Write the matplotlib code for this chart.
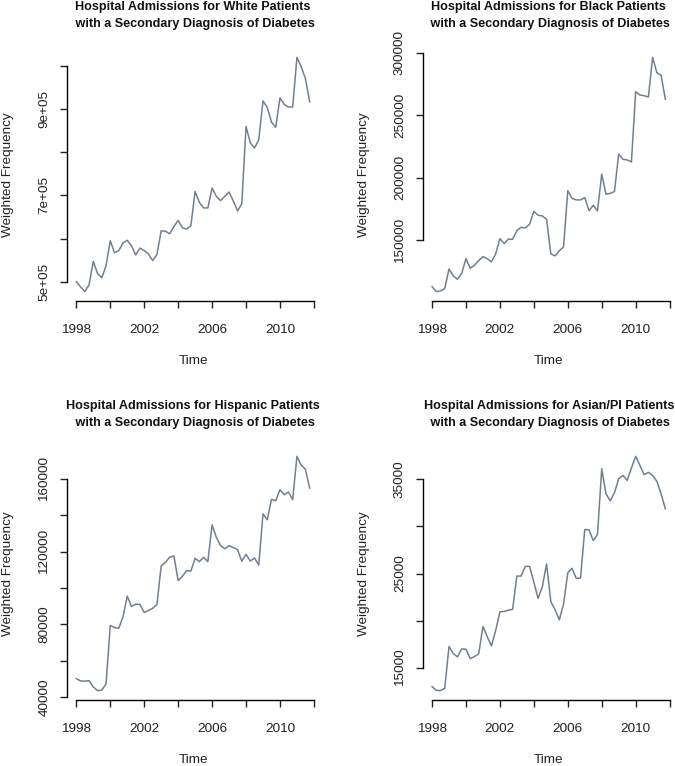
import numpy as np
import matplotlib
matplotlib.use('Agg')
import matplotlib.pyplot as plt

# ==============================================================================
# Data (quarterly, 1998 Q1 .. 2011 Q4)
#
START_YEAR = 1998
QUARTERS = 56

white = [
    500e3, 488e3, 477e3, 493e3, 547e3, 519e3, 509e3, 537e3,
    595e3, 567e3, 572e3, 590e3, 596e3, 583e3, 562e3, 578e3,
    572e3, 564e3, 549e3, 563e3, 618e3, 617e3, 611e3, 628e3,
    642e3, 625e3, 622e3, 630e3, 709e3, 684e3, 671e3, 671e3,
    717e3, 698e3, 688e3, 698e3, 708e3, 687e3, 664e3, 681e3,
    860e3, 822e3, 810e3, 829e3, 919e3, 904e3, 870e3, 858e3,
    926e3, 911e3, 905e3, 905e3, 1020e3, 998e3, 971e3, 917e3,
]
black = [
    112.9e3, 108.9e3, 109.5e3, 111.3e3, 127.1e3, 121.5e3, 118.8e3, 123.6e3,
    135.3e3, 127.6e3, 130.0e3, 133.7e3, 136.9e3, 135.3e3, 132.7e3, 139.1e3,
    151.3e3, 147.3e3, 151.0e3, 150.8e3, 157.7e3, 160.4e3, 159.9e3, 162.8e3,
    173.2e3, 170.0e3, 169.5e3, 166.8e3, 139.1e3, 137.5e3, 141.7e3, 144.7e3,
    189.7e3, 183.6e3, 182.3e3, 182.3e3, 184.1e3, 173.7e3, 178.0e3, 173.5e3,
    203.0e3, 186.8e3, 187.6e3, 189.0e3, 219.0e3, 214.8e3, 214.3e3, 212.7e3,
    268.9e3, 266.3e3, 265.7e3, 264.7e3, 296.4e3, 284.1e3, 282.0e3, 262.8e3,
]
hispanic = [
    50.1e3, 48.8e3, 48.7e3, 49.0e3, 45.5e3, 43.5e3, 43.7e3, 47.2e3,
    79.4e3, 78.2e3, 77.8e3, 84.1e3, 95.5e3, 89.8e3, 91.1e3, 90.9e3,
    86.5e3, 87.6e3, 88.8e3, 90.9e3, 112.1e3, 114.1e3, 116.9e3, 117.6e3,
    104.0e3, 106.4e3, 109.5e3, 109.3e3, 116.3e3, 114.5e3, 116.9e3, 114.5e3,
    134.7e3, 127.9e3, 123.3e3, 121.5e3, 123.3e3, 122.2e3, 121.1e3, 114.7e3,
    118.5e3, 114.8e3, 116.5e3, 112.6e3, 140.8e3, 137.5e3, 148.8e3, 148.0e3,
    154.1e3, 151.3e3, 152.8e3, 148.6e3, 172.4e3, 167.6e3, 165.3e3, 155.0e3,
]
asian = [
    12.98e3, 12.58e3, 12.55e3, 12.80e3, 17.24e3, 16.49e3, 16.14e3, 16.99e3,
    16.95e3, 15.96e3, 16.17e3, 16.46e3, 19.37e3, 18.30e3, 17.31e3, 18.94e3,
    20.93e3, 20.97e3, 21.10e3, 21.20e3, 24.73e3, 24.73e3, 25.76e3, 25.76e3,
    24.06e3, 22.35e3, 23.60e3, 26.01e3, 22.00e3, 21.15e3, 20.08e3, 21.75e3,
    25.09e3, 25.55e3, 24.48e3, 24.52e3, 29.67e3, 29.64e3, 28.50e3, 29.14e3,
    36.14e3, 33.47e3, 32.73e3, 33.58e3, 35.07e3, 35.43e3, 34.89e3, 36.21e3,
    37.45e3, 36.49e3, 35.50e3, 35.75e3, 35.43e3, 34.79e3, 33.47e3, 31.87e3,
]

groups = ['White', 'Black', 'Hispanic', 'Asian/PI']
series = [white, black, hispanic, asian]

x_ticks = [1998, 2000, 2002, 2004, 2006, 2008, 2010, 2012]
x_labels = ['1998', '', '2002', '', '2006', '', '2010', '']

y_ticks = [
    [5e5, 6e5, 7e5, 8e5, 9e5, 1e6],
    [150000, 200000, 250000, 300000],
    [40000, 60000, 80000, 100000, 120000, 140000, 160000],
    [15000, 20000, 25000, 30000, 35000],
]
y_labels = [
    ['5e+05', '', '7e+05', '', '9e+05', ''],
    ['150000', '200000', '250000', '300000'],
    ['40000', '', '80000', '', '120000', '', '160000'],
    ['15000', '', '25000', '', '35000'],
]

# ==============================================================================
# Layout (pixels)
#
W, H = 675, 766
PANEL_W, PANEL_H = 252, 253
PANEL_LEFT = [67, 422.7, 67, 422.7]
PANEL_TOP = [48, 48, 447, 447]

LINE_COLOR = 'slategray'
TEXT_COLOR = '#222222'
FONT = 'Liberation Sans'

plt.rcParams['font.family'] = FONT
plt.rcParams['axes.linewidth'] = 1.0

fig = plt.figure(figsize=(W/100, H/100), dpi=100)

t = START_YEAR + np.arange(QUARTERS)/4.0

for i in range(4):
    left = PANEL_LEFT[i]
    top = PANEL_TOP[i]
    ax = fig.add_axes([left/W, (H - top - PANEL_H)/H, PANEL_W/W, PANEL_H/H])
    y = np.array(series[i])
    ax.plot(t, y, color=LINE_COLOR, linewidth=1.1)
    # R style 4% expansion
    dx = 0.04*(t.max() - t.min())
    dy = 0.04*(y.max() - y.min())
    ax.set_xlim(t.min() - dx, t.max() + dx)
    ax.set_ylim(y.min() - dy, y.max() + dy)

    for side in ['top', 'right']:
        ax.spines[side].set_visible(False)
    ax.spines['bottom'].set_bounds(x_ticks[0], x_ticks[-1])
    ax.spines['left'].set_bounds(y_ticks[i][0], y_ticks[i][-1])

    ax.set_xticks(x_ticks)
    ax.set_xticklabels(x_labels)
    ax.set_yticks(y_ticks[i])
    ax.set_yticklabels(y_labels[i])
    ax.tick_params(axis='both', direction='out', length=5, width=1.0,
                   labelsize=9.7, colors=TEXT_COLOR)
    ax.tick_params(axis='x', pad=11.5)
    ax.tick_params(axis='y', pad=7)
    plt.setp(ax.get_yticklabels(), rotation=90, va='center')

    cx = (left + PANEL_W/2)/W
    fig.text(cx, (H - top + 32.5)/H,
             "Hospital Admissions for %s Patients\n with a Secondary Diagnosis of Diabetes"
             % groups[i],
             ha='center', va='center', fontsize=9.1, fontweight='bold',
             color='#111111', linespacing=1.6)
    fig.text((left - 59)/W, (H - top - PANEL_H/2)/H, 'Weighted Frequency',
             rotation=90, ha='center', va='center', fontsize=9.7,
             color=TEXT_COLOR)
    fig.text(cx, (H - top - PANEL_H - 60)/H, 'Time',
             ha='center', va='center', fontsize=9.7, color=TEXT_COLOR)

fig.savefig('out.png', dpi=100)
